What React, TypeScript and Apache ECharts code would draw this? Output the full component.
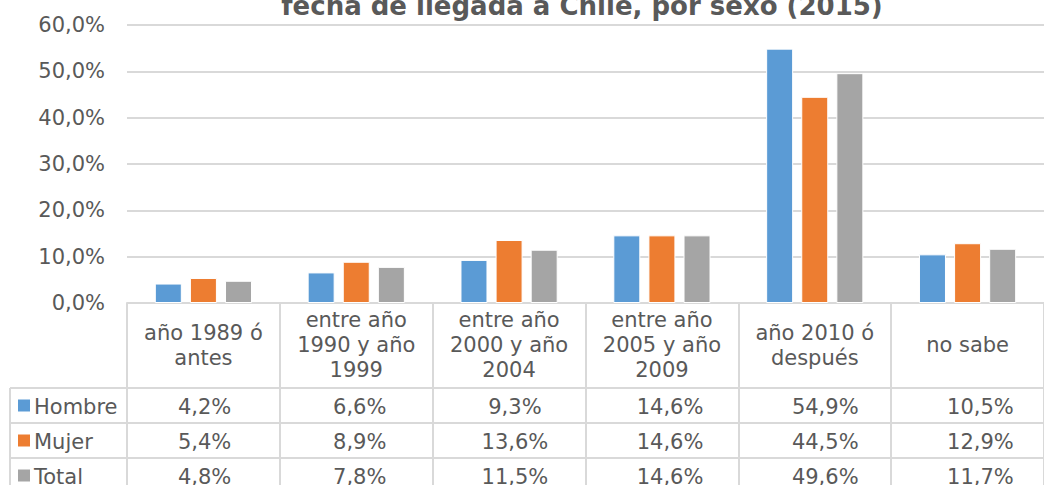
import React, { useEffect, useRef } from "react";
import * as echarts from "echarts";

const categories = [
  "año 1989 ó\nantes",
  "entre año\n1990 y año\n1999",
  "entre año\n2000 y año\n2004",
  "entre año\n2005 y año\n2009",
  "año 2010 ó\ndespués",
  "no sabe",
];
const seriesNames = ["Hombre", "Mujer", "Total"];
const hombre = [4.2, 6.6, 9.3, 14.6, 54.9, 10.5];
const mujer = [5.4, 8.9, 13.6, 14.6, 44.5, 12.9];
const total = [4.8, 7.8, 11.5, 14.6, 49.6, 11.7];
const colors = ["#5B9BD5", "#ED7D31", "#A5A5A5"];
const titleText = "fecha de llegada a Chile, por sexo (2015)";

const fmt = (v: number) => v.toFixed(1).replace(".", ",") + "%";

export default function App() {
  const ref = useRef<HTMLDivElement>(null);
  useEffect(() => {
    const chart = echarts.init(ref.current!, undefined, { renderer: "svg" });
    const font = "'DejaVu Sans', Verdana, sans-serif";
    const textColor = "#595959";
    const lineColor = "#D9D9D9";
    const fs = 21;
    const gridLeft = 127;
    const gridRight = -14;
    const gridTop = 25;
    const axisY = 303;
    const W = 1044;
    const colW = (W - gridRight - gridLeft) / categories.length;
    const headerBottom = 388;
    const rowH = 35;
    const tableLeft = 10;
    const allData = [hombre, mujer, total];

    const graphic: any[] = [];
    graphic.push({
      type: "text",
      x: 582,
      y: 19,
      style: {
        text: titleText,
        font: `bold 26px ${font}`,
        fill: textColor,
        align: "center",
        verticalAlign: "bottom",
      },
    });
    for (let r = 0; r < 3; r++) {
      const y0 = headerBottom + r * rowH;
      graphic.push({
        type: "line",
        shape: { x1: tableLeft, y1: y0, x2: W + 20, y2: y0 },
        style: { stroke: lineColor, lineWidth: 2 },
      });
      graphic.push({
        type: "rect",
        shape: { x: 18, y: y0 + rowH / 2 - 6, width: 12, height: 12 },
        style: { fill: colors[r] },
      });
      graphic.push({
        type: "text",
        x: 34,
        y: y0 + rowH / 2 + 1,
        style: {
          text: seriesNames[r],
          font: `${fs}px ${font}`,
          fill: textColor,
          align: "left",
          verticalAlign: "middle",
        },
      });
      allData[r].forEach((v, c) => {
        graphic.push({
          type: "text",
          x: gridLeft + colW * (c + 0.5),
          y: y0 + rowH / 2 + 1,
          style: {
            text: fmt(v),
            font: `${fs}px ${font}`,
            fill: textColor,
            align: "center",
            verticalAlign: "middle",
          },
        });
      });
    }
    graphic.push({
      type: "line",
      shape: { x1: tableLeft, y1: headerBottom, x2: tableLeft, y2: 500 },
      style: { stroke: lineColor, lineWidth: 2 },
    });

    chart.setOption({
      animation: false,
      grid: { left: gridLeft, right: gridRight, top: gridTop, bottom: 485 - axisY, containLabel: false },
      xAxis: {
        type: "category",
        data: categories,
        axisLine: { show: true, lineStyle: { color: lineColor, width: 2 } },
        axisTick: { show: true, length: 200, lineStyle: { color: lineColor, width: 2 } },
        axisLabel: {
          interval: 0,
          margin: 42,
          verticalAlign: "middle",
          lineHeight: 25,
          fontSize: fs,
          fontFamily: font,
          color: textColor,
          align: "center",
        },
      },
      yAxis: {
        type: "value",
        min: 0,
        max: 60,
        interval: 10,
        axisLine: { show: false },
        axisTick: { show: false },
        splitLine: { lineStyle: { color: lineColor, width: 2 } },
        axisLabel: {
          formatter: (v: number) => fmt(v),
          fontSize: fs,
          fontFamily: font,
          color: textColor,
          margin: 22,
        },
      },
      series: allData.map((d, i) => ({
        type: "bar",
        name: seriesNames[i],
        data: d,
        barWidth: 27,
        barGap: "30%",
        itemStyle: { color: colors[i], borderColor: "#fff", borderWidth: 1 },
      })),
      graphic,
    });
    return () => chart.dispose();
  }, []);
  return (
    <div
      ref={ref}
      style={{ position: "absolute", left: 0, top: 0, width: 1044, height: 485, overflow: "hidden" }}
    />
  );
}
